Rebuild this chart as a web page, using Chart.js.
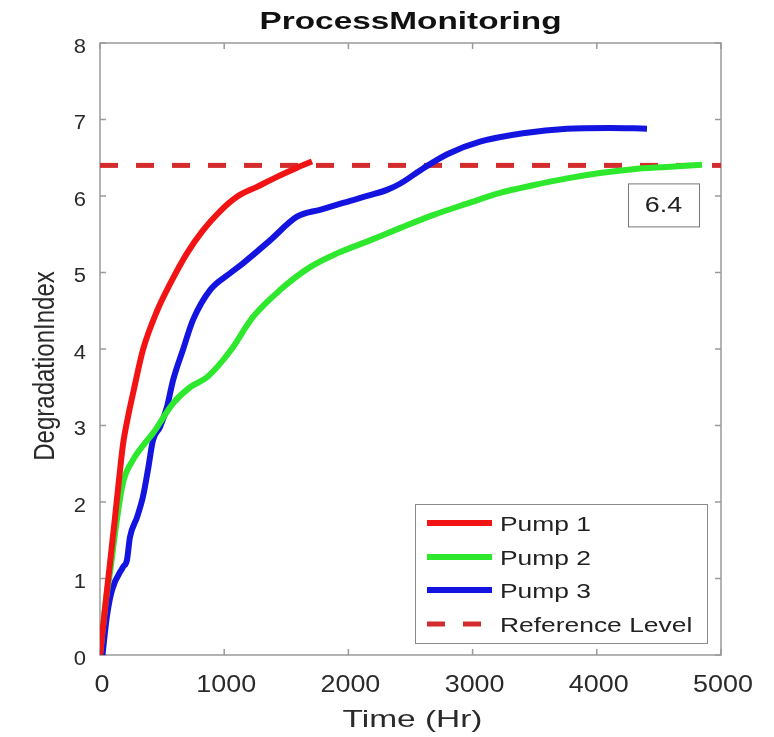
<!DOCTYPE html>
<html>
<head>
<meta charset="utf-8">
<script src="https://cdn.jsdelivr.net/npm/chart.js@4"></script>
<style>
  html, body { margin: 0; padding: 0; background: #fff; }
  #wrap { width: 774px; height: 737px; }
</style>
</head>
<body>
<div id="wrap"><canvas id="chart" width="774" height="737"></canvas></div>
<script>
// values
const timeP1 = [0, 60, 121, 153, 185, 230, 270, 346, 460, 564, 700, 829, 966, 1103, 1264, 1425, 1586, 1707];
const pump1  = [0, 0.9, 1.8, 2.29, 2.75, 3.15, 3.45, 3.99, 4.5, 4.85, 5.25, 5.55, 5.8, 5.99, 6.12, 6.25, 6.37, 6.45];

const timeP2 = [0, 50, 80, 130, 185, 266, 362, 427, 588, 725, 861, 1047, 1232, 1449, 1691, 1908, 2174, 2415, 2681, 2955, 3221, 3486, 3760, 4026, 4291, 4565, 4847];
const pump2  = [0, 0.75, 1.07, 1.7, 2.25, 2.55, 2.77, 2.9, 3.29, 3.5, 3.63, 3.97, 4.42, 4.77, 5.07, 5.25, 5.42, 5.58, 5.75, 5.9, 6.04, 6.14, 6.23, 6.3, 6.35, 6.38, 6.41];

const timeP3 = [20, 55, 97, 185, 217, 241, 298, 346, 386, 427, 483, 539, 588, 668, 749, 886, 1047, 1151, 1369, 1586, 1771, 1957, 2174, 2311, 2415, 2601, 2800, 3060, 3406, 3760, 4100, 4404];
const pump3  = [0, 0.5, 0.85, 1.15, 1.24, 1.54, 1.8, 2.07, 2.42, 2.81, 2.98, 3.24, 3.59, 3.99, 4.38, 4.77, 4.99, 5.12, 5.42, 5.73, 5.82, 5.91, 6.01, 6.08, 6.16, 6.36, 6.55, 6.71, 6.82, 6.88, 6.89, 6.88];

const refLevel = 6.4;
const refRange = [0, 5000];

const xTicks = [0, 1000, 2000, 3000, 4000, 5000];
const yTicks = [0, 1, 2, 3, 4, 5, 6, 7, 8];

const chartTitle = "ProcessMonitoring";
const xTitle = "Time (Hr)";
const yTitle = "DegradationIndex";

const FONT = "'Liberation Sans', Arial, Helvetica, sans-serif";
const TEXT = "#2a2a2a";

const pts = (xs, ys) => xs.map((x, i) => ({ x: x, y: ys[i] }));

// the source picture is stretched sideways, so text gets a horizontal scale
function wideText(ctx, text, x, y, o) {
  ctx.save();
  ctx.font = o.font;
  ctx.fillStyle = o.color || TEXT;
  ctx.textAlign = o.align || "center";
  ctx.textBaseline = o.baseline || "alphabetic";
  let sx = o.sx || 1;
  if (o.width) sx = o.width / ctx.measureText(text).width;
  ctx.translate(x, y);
  if (o.rotate) ctx.rotate(o.rotate);
  ctx.scale(o.rotate ? 1 : sx, o.rotate ? sx : 1);
  ctx.fillText(text, 0, 0);
  ctx.restore();
}

// box around the plot with inward ticks, matlab style, plus all the text
const framePlugin = {
  id: "frame",
  beforeDatasetsDraw(chart) {
    const { ctx, chartArea: a, scales } = chart;
    ctx.save();
    ctx.strokeStyle = "#9a9a9a";
    ctx.lineWidth = 1.5;
    ctx.strokeRect(a.left, a.top, a.right - a.left, a.bottom - a.top);
    ctx.beginPath();
    const len = 6;
    xTicks.forEach(v => {
      const px = scales.x.getPixelForValue(v);
      ctx.moveTo(px, a.bottom); ctx.lineTo(px, a.bottom - len);
      ctx.moveTo(px, a.top); ctx.lineTo(px, a.top + len);
    });
    yTicks.forEach(v => {
      const py = scales.y.getPixelForValue(v);
      ctx.moveTo(a.left, py); ctx.lineTo(a.left + len, py);
      ctx.moveTo(a.right, py); ctx.lineTo(a.right - len, py);
    });
    ctx.stroke();
    ctx.restore();

    // tick labels
    xTicks.forEach(v => {
      wideText(ctx, String(v), scales.x.getPixelForValue(v) + 2, a.bottom + 37,
        { font: "23px " + FONT, sx: 1.17 });
    });
    yTicks.forEach(v => {
      wideText(ctx, String(v), a.left - 14, scales.y.getPixelForValue(v) + 4,
        { font: "20px " + FONT, sx: 1.1, align: "right", baseline: "middle" });
    });

    // titles
    wideText(ctx, chartTitle, (a.left + a.right) / 2, 29,
      { font: "bold 24px " + FONT, width: 302, color: "#111" });
    wideText(ctx, xTitle, (a.left + a.right) / 2 + 2, 727,
      { font: "24px " + FONT, width: 140 });
    wideText(ctx, yTitle, 54, (a.top + a.bottom) / 2 + 17,
      { font: "24px " + FONT, sx: 1.25, rotate: -Math.PI / 2 });
  },
  afterDatasetsDraw(chart) {
    const { ctx, chartArea: a, scales } = chart;
    ctx.save();

    // value label under the reference line
    const ry = scales.y.getPixelForValue(refLevel);
    const bw = 71, bh = 43;
    const bx = a.right - 22 - bw, by = ry + 18;
    ctx.fillStyle = "#fff";
    ctx.fillRect(bx, by, bw, bh);
    ctx.strokeStyle = "#777";
    ctx.lineWidth = 1;
    ctx.strokeRect(bx + 0.5, by + 0.5, bw, bh);
    wideText(ctx, String(refLevel), bx + bw / 2, by + bh / 2 + 1,
      { font: "22px " + FONT, sx: 1.22, baseline: "middle", color: "#222" });

    // legend
    const lw = 292, lh = 139;
    const lx = a.right - 14 - lw, ly = a.bottom - 12 - lh;
    ctx.fillStyle = "#fff";
    ctx.fillRect(lx, ly, lw, lh);
    ctx.strokeStyle = "#8a8a8a";
    ctx.lineWidth = 1;
    ctx.strokeRect(lx + 0.5, ly + 0.5, lw, lh);
    const rows = [19, 53, 86, 120];
    chart.data.datasets.forEach((ds, i) => {
      const y = ly + rows[i];
      ctx.strokeStyle = ds.borderColor;
      ctx.lineWidth = ds.borderWidth;
      ctx.setLineDash(ds.borderDash || []);
      ctx.beginPath();
      ctx.moveTo(lx + 12, y);
      ctx.lineTo(lx + 77, y);
      ctx.stroke();
      ctx.setLineDash([]);
      wideText(ctx, ds.label, lx + 85, y + 2,
        { font: "20px " + FONT, sx: 1.32, align: "left", baseline: "middle", color: "#222" });
    });
    ctx.restore();
  }
};

const lineDs = (label, data, color) => ({
  label: label,
  data: data,
  borderColor: color,
  backgroundColor: color,
  borderWidth: 6,
  pointRadius: 0,
  cubicInterpolationMode: "monotone",
  fill: false,
});

new Chart(document.getElementById("chart").getContext("2d"), {
  type: "line",
  data: {
    datasets: [
      lineDs("Pump 1", pts(timeP1, pump1), "#f21414"),
      lineDs("Pump 2", pts(timeP2, pump2), "#2ee82e"),
      lineDs("Pump 3", pts(timeP3, pump3), "#1414e0"),
      {
        label: "Reference Level",
        data: pts(refRange, [refLevel, refLevel]),
        borderColor: "#d42c2c",
        borderWidth: 5,
        borderDash: [18, 18],
        pointRadius: 0,
        fill: false,
      },
    ],
  },
  plugins: [framePlugin],
  options: {
    responsive: false,
    animation: false,
    layout: { padding: { left: 0, right: 53, top: 43, bottom: 0 } },
    plugins: {
      legend: { display: false },
      tooltip: { enabled: false },
      title: { display: false },
    },
    scales: {
      x: {
        type: "linear",
        min: 0,
        max: 5000,
        grid: { display: false },
        border: { display: false },
        ticks: { display: false, stepSize: 1000 },
        afterFit(scale) { scale.height = 82; },
      },
      y: {
        min: 0,
        max: 8,
        grid: { display: false },
        border: { display: false },
        ticks: { display: false, stepSize: 1 },
        afterFit(scale) { scale.width = 100; },
      },
    },
  },
});
</script>
</body>
</html>
